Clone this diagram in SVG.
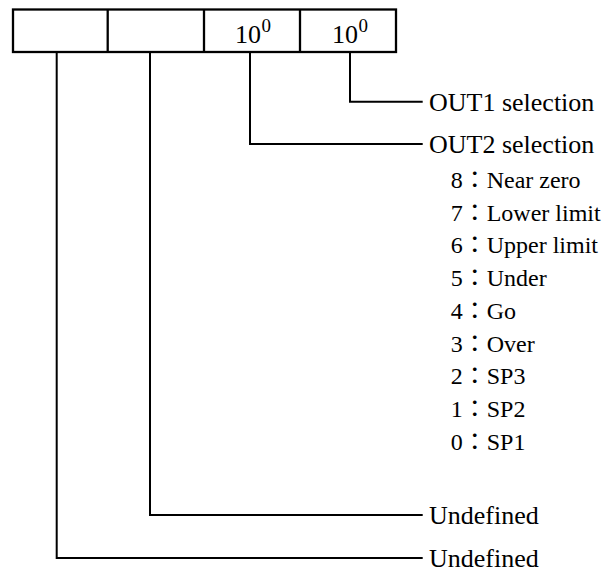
<svg xmlns="http://www.w3.org/2000/svg" width="603" height="574" viewBox="0 0 603 574">
<style>
.box{fill:#fff;stroke:#000;stroke-width:2.3}
.ln{fill:none;stroke:#000;stroke-width:2}
text{font-family:"Liberation Serif","Noto Sans CJK JP",serif;fill:#000}
.lbl{font-size:26px}
.it{font-size:24px}
.dg{font-size:26px}
.sp{font-size:19px}
</style>
<rect width="603" height="574" fill="#fff"/>
<g id="register">
<rect class="box" x="13" y="9.5" width="383" height="42.5"/>
<line class="box" x1="107.7" y1="9.5" x2="107.7" y2="52"/>
<line class="box" x1="204" y1="9.5" x2="204" y2="52"/>
<line class="box" x1="300" y1="9.5" x2="300" y2="52"/>
<text class="dg" x="235" y="42.5">10</text><text class="sp" x="261.5" y="31.5">0</text>
<text class="dg" x="332" y="42.5">10</text><text class="sp" x="358.5" y="31.5">0</text>
</g>
<g id="connectors">
<polyline class="ln" points="350,52 350,101.7 422.7,101.7"/>
<polyline class="ln" points="250,52 250,144 422.7,144"/>
<polyline class="ln" points="150,52 150,515 422.7,515"/>
<polyline class="ln" points="56.7,52 56.7,558 422.7,558"/>
</g>
<g id="out1"><text class="lbl" x="429" y="110.5">OUT1 selection</text></g>
<g id="out2">
<text class="lbl" x="429" y="152.5">OUT2 selection</text>
<text class="it" x="450.7" y="188">8：Near zero</text>
<text class="it" x="450.7" y="220.7">7：Lower limit</text>
<text class="it" x="450.7" y="253.4">6：Upper limit</text>
<text class="it" x="450.7" y="286.1">5：Under</text>
<text class="it" x="450.7" y="318.8">4：Go</text>
<text class="it" x="450.7" y="351.5">3：Over</text>
<text class="it" x="450.7" y="384.2">2：SP3</text>
<text class="it" x="450.7" y="416.9">1：SP2</text>
<text class="it" x="450.7" y="449.6">0：SP1</text>
</g>
<g id="undef1"><text class="lbl" x="429" y="523.5">Undefined</text></g>
<g id="undef2"><text class="lbl" x="429" y="566.5">Undefined</text></g>
</svg>
